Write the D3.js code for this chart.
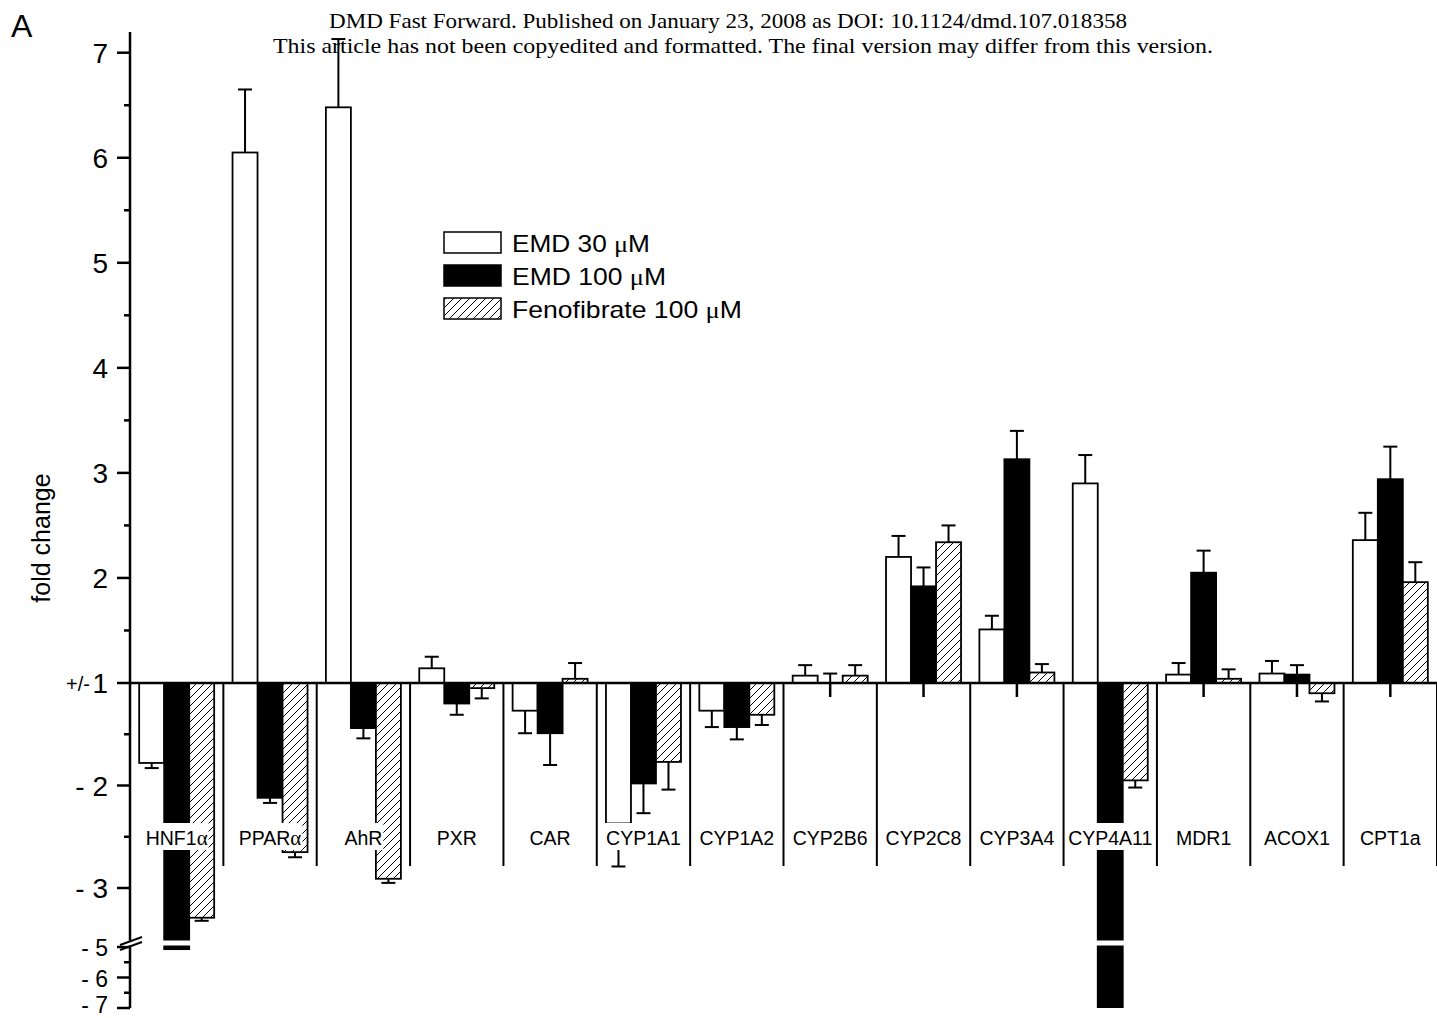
<!DOCTYPE html>
<html><head><meta charset="utf-8">
<script src="https://cdn.jsdelivr.net/npm/d3@7"></script>
<style>body{margin:0;background:#fff} svg{display:block}</style>
</head><body><svg id="c" width="1437" height="1018"></svg>
<script>
const categories = ["HNF1α","PPARα","AhR","PXR","CAR","CYP1A1","CYP1A2","CYP2B6","CYP2C8","CYP3A4","CYP4A11","MDR1","ACOX1","CPT1a"];
const seriesNames = ["EMD 30 ", "EMD 100 ", "Fenofibrate 100 "];
const emd30    = [-1.78, 6.05, 6.48, 1.14, -1.27, -2.37, -1.27, 1.07, 2.20, 1.51, 2.90, 1.08, 1.09, 2.36];
const emd30Err = [0.05, 0.60, 0.65, 0.11, 0.22, 0.42, 0.16, 0.10, 0.20, 0.13, 0.27, 0.11, 0.12, 0.26];
const emd100    = [-5.07, -2.12, -1.44, -1.20, -1.49, -1.98, -1.43, 1.00, 1.92, 3.13, -6.97, 2.05, 1.08, 2.94];
const emd100Err = [0, 0.05, 0.10, 0.11, 0.31, 0.29, 0.12, 0.09, 0.18, 0.27, 0, 0.21, 0.09, 0.31];
const feno    = [-3.29, -2.65, -2.91, -1.05, 1.04, -1.77, -1.31, 1.07, 2.34, 1.10, -1.95, 1.04, -1.10, 1.96];
const fenoErr = [0.03, 0.05, 0.04, 0.10, 0.15, 0.27, 0.10, 0.10, 0.16, 0.08, 0.07, 0.09, 0.08, 0.19];
const yMajorTicks  = [7, 6, 5, 4, 3, 2, 1, -2, -3, -5, -6, -7];
const yMajorLabels = ["7","6","5","4","3","2","1","- 2","- 3","- 5","- 6","- 7"];
const yMinorTicks  = [6.5, 5.5, 4.5, 3.5, 2.5, 1.5, -1.5, -2.5, -5.5, -6.5];
const headerLines = ["DMD Fast Forward. Published on January 23, 2008 as DOI: 10.1124/dmd.107.018358",
  "This article has not been copyedited and formatted. The final version may differ from this version."];

const series = [
  {name: seriesNames[0], vals: emd30, errs: emd30Err, fill: "#fff", tl: 138},
  {name: seriesNames[1], vals: emd100, errs: emd100Err, fill: "#000", tl: 154},
  {name: seriesNames[2], vals: feno, errs: fenoErr, fill: "url(#hatch)", tl: 230}
];

const FONT = "Arial, 'Liberation Sans', sans-serif";
const svg = d3.select("#c");
const defs = svg.append("defs");
const pat = defs.append("pattern").attr("id","hatch").attr("patternUnits","userSpaceOnUse")
  .attr("width",8).attr("height",8);
pat.append("rect").attr("width",8).attr("height",8).attr("fill","#fff");
pat.append("path").attr("d","M-2,2 L2,-2 M0,8 L8,0 M6,10 L10,6").attr("stroke","#000").attr("stroke-width",1);

// fold change -> transformed (+1 and -1 coincide)
const tr = f => f >= 1 ? f - 1 : f + 1;
const y = d3.scaleLinear().domain([6, 0, -2.5, -4, -6]).range([52.7, 683, 939.25, 947, 1008]);
const x = d3.scaleBand().domain(categories).range([130, 1437]).padding(0);
const xs = d3.scaleBand().domain([0,1,2]).range([-37.5, 37.5]).padding(0);
const y0 = y(0);
const gapTop = 940.5, gapBot = 945.5;

// bars
const gBars = svg.append("g");
series.forEach((s, si) => {
  categories.forEach((c, ci) => {
    const v = s.vals[ci];
    const yv = y(tr(v));
    const bx = x(c) + x.bandwidth()/2 + xs(si);
    gBars.append("rect").attr("x", bx).attr("y", Math.min(yv, y0)).attr("width", xs.bandwidth())
      .attr("height", Math.abs(yv - y0)).attr("fill", s.fill).attr("stroke", "#000").attr("stroke-width", 1.8);
    if (v < -3.5) {
      gBars.append("rect").attr("x", bx - 2).attr("y", gapTop).attr("width", xs.bandwidth() + 4)
        .attr("height", gapBot - gapTop).attr("fill", "#fff");
    }
    const e = s.errs[ci];
    if (e > 0) {
      const ye = v >= 1 ? y(tr(v + e)) : y(tr(v - e));
      const cx = bx + xs.bandwidth()/2;
      gBars.append("line").attr("x1", cx).attr("x2", cx).attr("y1", yv).attr("y2", ye)
        .attr("stroke","#000").attr("stroke-width",2);
      gBars.append("line").attr("x1", cx - 7).attr("x2", cx + 7).attr("y1", ye).attr("y2", ye)
        .attr("stroke","#000").attr("stroke-width",2);
    }
  });
});

// category separators and center ticks
const gX = svg.append("g");
categories.forEach((c, i) => {
  const xr = x(c) + x.bandwidth();
  gX.append("line").attr("x1", xr).attr("x2", xr).attr("y1", y0).attr("y2", 866)
    .attr("stroke","#000").attr("stroke-width",2);
  const xc = x(c) + x.bandwidth()/2;
  gX.append("line").attr("x1", xc).attr("x2", xc).attr("y1", y0).attr("y2", 697)
    .attr("stroke","#000").attr("stroke-width",2.5);
});
// category labels with white background
categories.forEach(c => {
  const xc = x(c) + x.bandwidth()/2;
  const g = gX.append("g");
  const bg = g.append("rect").attr("fill","#fff");
  const t = g.append("text").attr("x", xc).attr("y", 845).attr("text-anchor","middle")
    .attr("font-family", FONT).attr("font-size",19.5);
  if (c.endsWith("α")) {
    t.append("tspan").text(c.slice(0, -1));
    t.append("tspan").attr("font-family","'Liberation Serif', serif").attr("font-size",21).text("α");
  } else t.text(c);
  const bb = t.node().getBBox();
  bg.attr("x", bb.x - 1).attr("y", 823).attr("width", bb.width + 2).attr("height", 27);
});
// x axis line
svg.append("line").attr("x1",130).attr("x2",1437).attr("y1",y0).attr("y2",y0)
  .attr("stroke","#000").attr("stroke-width",2.5);

// y axis
const gY = svg.append("g");
gY.append("line").attr("x1",130).attr("x2",130).attr("y1",32).attr("y2",y(tr(-7)))
  .attr("stroke","#000").attr("stroke-width",2.5);
yMajorTicks.forEach((v, i) => {
  const yy = y(tr(v));
  gY.append("line").attr("x1",117).attr("x2",130).attr("y1",yy).attr("y2",yy)
    .attr("stroke","#000").attr("stroke-width",2.5);
  const lower = v <= -5;
  const by = lower ? Math.min(yy + 9, 1013) : yy + 10;
  gY.append("text").attr("x",108).attr("y",by).attr("text-anchor","end")
    .attr("font-family", FONT).attr("font-size", lower ? 23 : 28).text(yMajorLabels[i]);
  if (v === 1) {
    gY.append("text").attr("x",90).attr("y",by - 2).attr("text-anchor","end")
      .attr("font-family", FONT).attr("font-size",20).text("+/-");
  }
});
yMinorTicks.forEach(v => {
  const yy = y(tr(v));
  gY.append("line").attr("x1",124).attr("x2",130).attr("y1",yy).attr("y2",yy)
    .attr("stroke","#000").attr("stroke-width",2.5);
});
// axis break
gY.append("rect").attr("x",124).attr("y",gapTop).attr("width",12).attr("height",gapBot-gapTop).attr("fill","#fff");
gY.append("line").attr("x1",120).attr("y1",945).attr("x2",142).attr("y2",937).attr("stroke","#000").attr("stroke-width",2);
gY.append("line").attr("x1",120).attr("y1",950).attr("x2",142).attr("y2",942).attr("stroke","#000").attr("stroke-width",2);

// y axis title
svg.append("text").attr("transform","translate(50,538) rotate(-90)").attr("text-anchor","middle")
  .attr("font-family", FONT).attr("font-size",25).text("fold change");

// panel letter
svg.append("text").attr("x",11).attr("y",37).attr("font-family", FONT)
  .attr("font-size",32).text("A");

// header
svg.append("text").attr("x",329).attr("y",28).attr("font-family","'Liberation Serif', 'Times New Roman', serif")
  .attr("font-size",21).attr("textLength",798).attr("lengthAdjust","spacingAndGlyphs").text(headerLines[0]);
svg.append("text").attr("x",273).attr("y",53).attr("font-family","'Liberation Serif', 'Times New Roman', serif")
  .attr("font-size",21).attr("textLength",940).attr("lengthAdjust","spacingAndGlyphs").text(headerLines[1]);

// legend
const gL = svg.append("g");
series.forEach((s, i) => {
  const ly = 232 + i * 33;
  gL.append("rect").attr("x",444).attr("y",ly).attr("width",57).attr("height",21)
    .attr("fill",s.fill).attr("stroke","#000").attr("stroke-width",1.5);
  const t = gL.append("text").attr("x",512).attr("y",ly + 20)
    .attr("font-family", FONT).attr("font-size",24)
    .attr("textLength", s.tl).attr("lengthAdjust","spacingAndGlyphs");
  t.append("tspan").text(s.name);
  t.append("tspan").attr("font-family","'Liberation Serif', serif").attr("font-size",24).text("μ");
  t.append("tspan").text("M");
});
</script></body></html>
